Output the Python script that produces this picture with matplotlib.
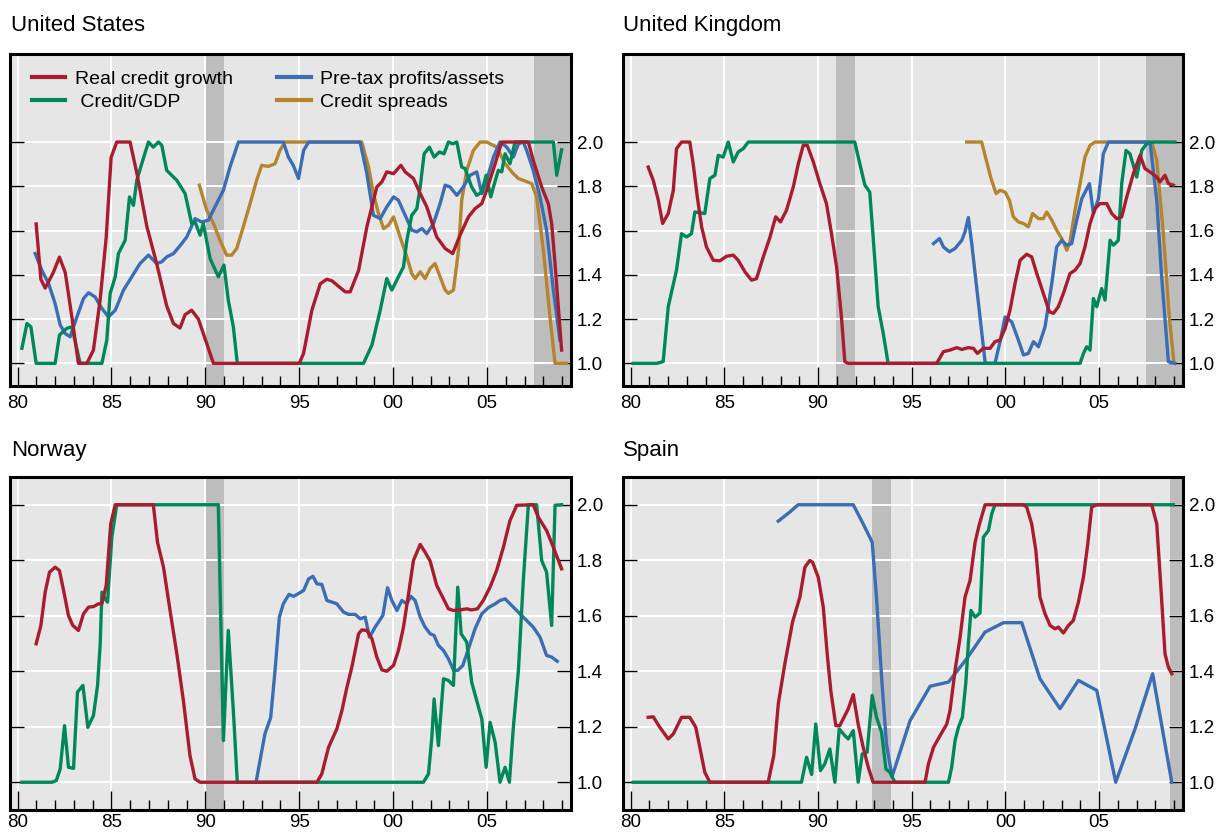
import numpy as np
import matplotlib
matplotlib.use("Agg")
import matplotlib.pyplot as plt
from matplotlib.ticker import MultipleLocator
from matplotlib.lines import Line2D

plt.rcParams['font.family'] = ['Liberation Sans', 'DejaVu Sans']

RED = '#a81c2e'
GREEN = '#00875a'
BLUE = '#3b6db5'
GOLD = '#b5842d'
BG = '#e6e6e6'
SHADE = '#bdbdbd'

# ---- United States ----
us_credit_growth = [(1980.99, 1.63), (1981.24, 1.38), (1981.47, 1.34), (1981.9, 1.41), (1982.23, 1.48),
                    (1982.54, 1.41), (1982.89, 1.21), (1983.24, 1.0), (1983.69, 1.0), (1984.04, 1.06),
                    (1984.4, 1.29), (1984.72, 1.57), (1984.98, 1.93), (1985.28, 2.0), (1985.99, 2.0),
                    (1986.35, 1.86), (1986.88, 1.62), (1987.41, 1.45), (1987.94, 1.26), (1988.3, 1.18),
                    (1988.65, 1.16), (1988.92, 1.22), (1989.27, 1.24), (1989.63, 1.20), (1990.43, 1.0),
                    (1995.0, 1.0), (1995.23, 1.045), (1995.67, 1.24), (1996.12, 1.36), (1996.47, 1.38),
                    (1996.74, 1.373), (1997.45, 1.323), (1997.71, 1.323), (1998.16, 1.42), (1998.6, 1.617),
                    (1999.13, 1.797), (1999.4, 1.82), (1999.66, 1.865), (2000.02, 1.857), (2000.41, 1.895),
                    (2000.64, 1.865), (2001.08, 1.835), (2001.44, 1.767), (2001.79, 1.707), (2002.32, 1.571),
                    (2002.77, 1.519), (2003.17, 1.496), (2003.56, 1.579), (2004.01, 1.662), (2004.36, 1.699),
                    (2004.72, 1.722), (2004.98, 1.782), (2005.43, 1.902), (2005.78, 2.0), (2007.2, 2.0),
                    (2007.46, 1.917), (2007.91, 1.797), (2008.26, 1.722), (2008.44, 1.632), (2008.62, 1.45),
                    (2008.97, 1.06)]
us_credit_gdp = [(1980.23, 1.068), (1980.5, 1.18), (1980.71, 1.165), (1980.99, 1.0), (1982.0, 1.0),
                 (1982.23, 1.128), (1982.62, 1.158), (1982.89, 1.165), (1983.33, 1.0), (1984.49, 1.0),
                 (1984.75, 1.105), (1984.93, 1.316), (1985.2, 1.391), (1985.37, 1.496), (1985.73, 1.556),
                 (1985.96, 1.752), (1986.17, 1.714), (1986.35, 1.827), (1986.61, 1.902), (1986.97, 2.0),
                 (1987.23, 1.977), (1987.5, 2.0), (1987.68, 1.985), (1987.94, 1.872), (1988.48, 1.827),
                 (1988.92, 1.767), (1989.27, 1.632), (1989.45, 1.639), (1989.72, 1.579), (1989.89, 1.632),
                 (1990.25, 1.474), (1990.69, 1.391), (1990.99, 1.444), (1991.22, 1.286), (1991.49, 1.165),
                 (1991.7, 1.0), (1998.42, 1.0), (1998.87, 1.083), (1999.31, 1.24), (1999.66, 1.383),
                 (1999.93, 1.331), (2000.28, 1.391), (2000.55, 1.436), (2000.73, 1.556), (2000.99, 1.669),
                 (2001.26, 1.699), (2001.44, 1.797), (2001.65, 1.947), (2001.93, 1.977), (2002.18, 1.932),
                 (2002.46, 1.955), (2002.71, 1.947), (2002.94, 2.0), (2003.17, 1.992), (2003.39, 2.0),
                 (2003.65, 1.887), (2003.83, 1.88), (2004.18, 1.797), (2004.45, 1.759), (2004.72, 1.774),
                 (2004.95, 1.85), (2005.2, 1.752), (2005.34, 1.797), (2005.6, 1.872), (2005.78, 1.865),
                 (2005.96, 1.947), (2006.22, 1.902), (2006.49, 2.0), (2008.53, 2.0), (2008.71, 1.85),
                 (2008.97, 1.965)]
us_profits = [(1980.94, 1.496), (1981.29, 1.421), (1981.65, 1.361), (1982.0, 1.27), (1982.27, 1.173),
              (1982.54, 1.135), (1982.8, 1.12), (1983.16, 1.21), (1983.51, 1.293), (1983.78, 1.319),
              (1984.13, 1.30), (1984.49, 1.248), (1984.84, 1.21), (1985.2, 1.24), (1985.64, 1.331),
              (1986.08, 1.391), (1986.52, 1.451), (1986.97, 1.489), (1987.41, 1.451), (1987.68, 1.459),
              (1987.94, 1.481), (1988.3, 1.496), (1988.74, 1.541), (1989.01, 1.571), (1989.45, 1.654),
              (1989.8, 1.639), (1990.16, 1.647), (1990.51, 1.707), (1990.96, 1.782), (1991.31, 1.887),
              (1991.76, 2.0), (1994.15, 2.0), (1994.42, 1.932), (1994.68, 1.895), (1994.96, 1.835),
              (1995.23, 1.962), (1995.5, 2.0), (1998.24, 2.0), (1998.6, 1.857), (1998.95, 1.669),
              (1999.31, 1.654), (1999.66, 1.707), (2000.02, 1.752), (2000.28, 1.737), (2000.64, 1.669),
              (2000.99, 1.602), (2001.26, 1.594), (2001.53, 1.609), (2001.79, 1.586), (2002.15, 1.632),
              (2002.5, 1.722), (2002.77, 1.805), (2003.03, 1.797), (2003.39, 1.759), (2003.74, 1.797),
              (2004.1, 1.85), (2004.45, 1.865), (2004.72, 1.767), (2004.98, 1.827), (2005.34, 1.932),
              (2005.69, 2.0), (2006.05, 1.977), (2006.4, 1.932), (2006.67, 1.992), (2006.93, 2.0),
              (2007.11, 1.962), (2007.46, 1.872), (2007.82, 1.752), (2008.17, 1.602), (2008.53, 1.331),
              (2008.88, 1.105)]
us_spreads = [(1989.68, 1.805), (1990.07, 1.692), (1990.43, 1.632), (1990.78, 1.556), (1991.13, 1.489),
              (1991.4, 1.489), (1991.67, 1.519), (1992.02, 1.617), (1992.38, 1.722), (1992.73, 1.827),
              (1993.0, 1.895), (1993.35, 1.89), (1993.71, 1.902), (1993.97, 1.962), (1994.24, 2.0),
              (1998.33, 2.0), (1998.69, 1.887), (1998.95, 1.767), (1999.22, 1.677), (1999.49, 1.609),
              (1999.75, 1.624), (2000.02, 1.662), (2000.37, 1.571), (2000.73, 1.481), (2000.99, 1.406),
              (2001.17, 1.383), (2001.44, 1.414), (2001.7, 1.383), (2001.97, 1.429), (2002.23, 1.451),
              (2002.5, 1.391), (2002.77, 1.331), (2002.94, 1.316), (2003.21, 1.331), (2003.48, 1.511),
              (2003.65, 1.737), (2003.92, 1.872), (2004.27, 1.962), (2004.63, 2.0), (2004.98, 2.0),
              (2005.51, 1.977), (2005.96, 1.902), (2006.4, 1.857), (2006.67, 1.835), (2006.93, 1.827),
              (2007.38, 1.812), (2007.64, 1.752), (2008.0, 1.511), (2008.35, 1.21), (2008.62, 1.0),
              (2009.24, 1.0)]
us_recessions = [(1990.0, 1991.0), (2007.5, 2010.0)]

# ---- United Kingdom ----
uk_credit_growth = [(1980.94, 1.887), (1981.21, 1.827), (1981.48, 1.737), (1981.71, 1.632), (1982.01, 1.677),
                    (1982.28, 1.782), (1982.45, 1.97), (1982.72, 2.0), (1983.16, 2.0), (1983.34, 1.902),
                    (1983.56, 1.752), (1983.79, 1.617), (1984.05, 1.526), (1984.41, 1.466), (1984.76, 1.463),
                    (1985.12, 1.484), (1985.48, 1.489), (1985.74, 1.466), (1986.1, 1.414), (1986.45, 1.376),
                    (1986.72, 1.383), (1987.08, 1.481), (1987.44, 1.571), (1987.74, 1.662), (1988.0, 1.639),
                    (1988.32, 1.692), (1988.68, 1.797), (1988.95, 1.902), (1989.21, 1.985), (1989.43, 1.985),
                    (1989.75, 1.91), (1990.1, 1.812), (1990.45, 1.722), (1990.72, 1.586), (1990.99, 1.436),
                    (1991.25, 1.21), (1991.43, 1.008), (1991.61, 1.0), (1996.33, 1.0), (1996.69, 1.053),
                    (1997.04, 1.06), (1997.4, 1.071), (1997.67, 1.063), (1998.02, 1.071), (1998.29, 1.068),
                    (1998.5, 1.045), (1998.82, 1.068), (1999.18, 1.068), (1999.44, 1.098), (1999.71, 1.105),
                    (1999.98, 1.158), (2000.24, 1.24), (2000.51, 1.361), (2000.78, 1.466), (2001.13, 1.493),
                    (2001.4, 1.481), (2001.67, 1.406), (2002.02, 1.316), (2002.34, 1.233), (2002.56, 1.226),
                    (2002.82, 1.256), (2003.09, 1.316), (2003.44, 1.406), (2003.71, 1.421), (2003.98, 1.451),
                    (2004.24, 1.526), (2004.51, 1.632), (2004.78, 1.699), (2005.04, 1.722), (2005.4, 1.722),
                    (2005.67, 1.677), (2005.93, 1.654), (2006.2, 1.662), (2006.47, 1.752), (2006.82, 1.857),
                    (2007.18, 1.94), (2007.44, 1.88), (2007.71, 1.865), (2008.07, 1.842), (2008.24, 1.82),
                    (2008.51, 1.85), (2008.69, 1.812), (2008.96, 1.805)]
uk_credit_gdp = [(1980.14, 1.0), (1981.39, 1.0), (1981.74, 1.008), (1982.01, 1.256), (1982.45, 1.421),
                 (1982.72, 1.586), (1982.99, 1.571), (1983.25, 1.586), (1983.43, 1.684), (1983.96, 1.677),
                 (1984.23, 1.835), (1984.5, 1.85), (1984.68, 1.94), (1984.94, 1.932), (1985.21, 2.0),
                 (1985.48, 1.91), (1985.74, 1.955), (1986.01, 1.97), (1986.28, 2.0), (1991.96, 2.0),
                 (1992.23, 1.902), (1992.5, 1.805), (1992.76, 1.774), (1992.94, 1.571), (1993.21, 1.256),
                 (1993.48, 1.135), (1993.74, 1.0), (2003.98, 1.0), (2004.16, 1.045), (2004.33, 1.075),
                 (2004.51, 1.06), (2004.69, 1.293), (2004.87, 1.256), (2005.13, 1.338), (2005.31, 1.286),
                 (2005.58, 1.556), (2005.76, 1.534), (2006.02, 1.556), (2006.2, 1.812), (2006.43, 1.962),
                 (2006.64, 1.947), (2007.0, 1.842), (2007.27, 1.962), (2007.53, 1.992), (2007.89, 2.0),
                 (2009.04, 2.0)]
uk_profits = [(1996.16, 1.541), (1996.48, 1.564), (1996.69, 1.526), (1997.01, 1.504), (1997.31, 1.519),
              (1997.67, 1.556), (1997.84, 1.594), (1998.02, 1.659), (1998.2, 1.541), (1998.64, 1.21),
              (1998.91, 1.008), (1999.0, 1.0), (1999.44, 1.0), (1999.71, 1.098), (1999.98, 1.21),
              (2000.33, 1.188), (2000.69, 1.105), (2000.96, 1.038), (2001.22, 1.045), (2001.49, 1.098),
              (2001.76, 1.075), (2002.11, 1.165), (2002.47, 1.361), (2002.73, 1.526), (2003.0, 1.556),
              (2003.27, 1.534), (2003.53, 1.541), (2003.8, 1.647), (2004.07, 1.744), (2004.48, 1.812),
              (2004.69, 1.677), (2004.96, 1.744), (2005.22, 1.947), (2005.49, 2.0), (2007.71, 2.0),
              (2008.07, 1.737), (2008.33, 1.391), (2008.69, 1.008), (2009.04, 1.0)]
uk_spreads = [(1997.93, 2.0), (1998.73, 2.0), (1999.0, 1.91), (1999.23, 1.835), (1999.5, 1.767),
              (1999.71, 1.782), (1999.98, 1.774), (2000.21, 1.737), (2000.42, 1.662), (2000.69, 1.639),
              (2000.96, 1.632), (2001.22, 1.617), (2001.45, 1.677), (2001.76, 1.654), (2002.02, 1.654),
              (2002.2, 1.684), (2002.47, 1.647), (2002.73, 1.602), (2003.0, 1.564), (2003.27, 1.511),
              (2003.44, 1.549), (2003.71, 1.692), (2003.98, 1.812), (2004.24, 1.932), (2004.51, 1.985),
              (2004.78, 2.0), (2007.8, 2.0), (2008.07, 1.917), (2008.42, 1.586), (2008.74, 1.21),
              (2008.98, 1.01)]
uk_recessions = [(1990.95, 1991.95), (2007.5, 2010.0)]

# ---- Norway ----
no_credit_growth = [(1980.99, 1.499), (1981.24, 1.565), (1981.47, 1.685), (1981.7, 1.757), (1982.0, 1.775),
                    (1982.23, 1.763), (1982.45, 1.691), (1982.71, 1.601), (1982.94, 1.565), (1983.24, 1.547),
                    (1983.51, 1.607), (1983.78, 1.631), (1984.04, 1.633), (1984.31, 1.643), (1984.49, 1.643),
                    (1984.72, 1.709), (1984.96, 1.931), (1985.2, 2.0), (1987.23, 2.0), (1987.45, 1.865),
                    (1987.77, 1.775), (1988.12, 1.619), (1988.48, 1.463), (1988.83, 1.294), (1989.18, 1.096),
                    (1989.45, 1.012), (1989.72, 1.0), (1995.94, 1.0), (1996.2, 1.03), (1996.56, 1.126),
                    (1997.0, 1.192), (1997.27, 1.258), (1997.54, 1.343), (1997.8, 1.415), (1998.16, 1.535),
                    (1998.33, 1.549), (1998.6, 1.547), (1998.87, 1.517), (1999.13, 1.451), (1999.4, 1.405),
                    (1999.66, 1.40), (2000.02, 1.421), (2000.28, 1.475), (2000.55, 1.559), (2000.82, 1.679),
                    (2001.08, 1.799), (2001.44, 1.857), (2001.7, 1.829), (2001.97, 1.797), (2002.32, 1.709),
                    (2002.68, 1.661), (2002.94, 1.625), (2003.21, 1.619), (2003.56, 1.621), (2003.92, 1.625),
                    (2004.18, 1.621), (2004.49, 1.625), (2004.8, 1.655), (2005.16, 1.703), (2005.51, 1.763),
                    (2005.87, 1.847), (2006.22, 1.943), (2006.58, 1.998), (2007.46, 2.0), (2007.73, 1.955),
                    (2008.17, 1.907), (2008.53, 1.847), (2008.97, 1.769)]
no_credit_gdp = [(1980.23, 1.0), (1981.83, 1.0), (1982.06, 1.006), (1982.27, 1.048), (1982.5, 1.204),
                 (1982.71, 1.054), (1982.98, 1.05), (1983.19, 1.325), (1983.48, 1.349), (1983.74, 1.198),
                 (1984.04, 1.24), (1984.26, 1.349), (1984.4, 1.499), (1984.49, 1.685), (1984.66, 1.661),
                 (1984.79, 1.649), (1985.02, 1.883), (1985.28, 2.0), (1990.69, 2.0), (1990.96, 1.15),
                 (1991.22, 1.547), (1991.49, 1.258), (1991.7, 1.0), (2001.61, 1.0), (2001.88, 1.03),
                 (2002.06, 1.162), (2002.18, 1.30), (2002.41, 1.132), (2002.68, 1.373), (2002.94, 1.367),
                 (2003.21, 1.349), (2003.44, 1.703), (2003.62, 1.535), (2003.92, 1.505), (2004.18, 1.361),
                 (2004.45, 1.294), (2004.72, 1.228), (2004.95, 1.054), (2005.16, 1.216), (2005.43, 1.144),
                 (2005.69, 1.0), (2005.96, 1.054), (2006.19, 1.0), (2006.4, 1.198), (2006.67, 1.403),
                 (2006.93, 1.727), (2007.2, 2.0), (2007.64, 2.0), (2007.91, 1.799), (2008.17, 1.757),
                 (2008.44, 1.565), (2008.62, 1.998), (2008.97, 2.0)]
no_profits = [(1992.7, 1.0), (1992.91, 1.078), (1993.17, 1.174), (1993.48, 1.234), (1993.71, 1.403),
              (1993.94, 1.595), (1994.15, 1.643), (1994.45, 1.677), (1994.7, 1.67), (1994.96, 1.68),
              (1995.23, 1.691), (1995.5, 1.733), (1995.73, 1.742), (1995.94, 1.715), (1996.2, 1.713),
              (1996.47, 1.655), (1996.74, 1.649), (1997.0, 1.643), (1997.36, 1.613), (1997.62, 1.605),
              (1997.98, 1.605), (1998.24, 1.589), (1998.51, 1.595), (1998.74, 1.523), (1999.04, 1.559),
              (1999.45, 1.601), (1999.7, 1.701), (1999.93, 1.655), (2000.2, 1.619), (2000.46, 1.655),
              (2000.73, 1.643), (2000.94, 1.67), (2001.17, 1.655), (2001.44, 1.595), (2001.7, 1.559),
              (2001.97, 1.535), (2002.18, 1.529), (2002.41, 1.493), (2002.68, 1.475), (2002.94, 1.445),
              (2003.21, 1.405), (2003.44, 1.403), (2003.71, 1.421), (2004.01, 1.481), (2004.36, 1.553),
              (2004.72, 1.607), (2005.07, 1.629), (2005.43, 1.643), (2005.69, 1.655), (2005.96, 1.661),
              (2006.4, 1.631), (2006.93, 1.595), (2007.46, 1.559), (2007.82, 1.523), (2008.17, 1.457),
              (2008.44, 1.451), (2008.74, 1.436)]
no_recessions = [(1990.0, 1991.0)]

# ---- Spain ----
es_credit_growth = [(1980.94, 1.234), (1981.21, 1.236), (1981.56, 1.198), (1982.01, 1.156), (1982.28, 1.174),
                    (1982.72, 1.234), (1983.16, 1.234), (1983.48, 1.198), (1983.73, 1.114), (1983.96, 1.036),
                    (1984.23, 1.0), (1987.34, 1.0), (1987.64, 1.096), (1987.88, 1.282), (1988.23, 1.427),
                    (1988.64, 1.577), (1989.03, 1.667), (1989.3, 1.775), (1989.56, 1.799), (1989.71, 1.793),
                    (1990.01, 1.739), (1990.28, 1.631), (1990.49, 1.463), (1990.68, 1.331), (1990.95, 1.204),
                    (1991.16, 1.204), (1991.61, 1.264), (1991.88, 1.316), (1992.14, 1.21), (1992.41, 1.126),
                    (1992.68, 1.054), (1992.94, 1.0), (1995.71, 1.0), (1995.89, 1.066), (1996.16, 1.126),
                    (1996.51, 1.168), (1996.87, 1.21), (1997.04, 1.258), (1997.31, 1.403), (1997.58, 1.523),
                    (1997.84, 1.667), (1998.11, 1.727), (1998.38, 1.865), (1998.59, 1.925), (1998.91, 2.0),
                    (2000.96, 2.0), (2001.13, 1.992), (2001.4, 1.931), (2001.62, 1.835), (2001.84, 1.667),
                    (2002.11, 1.607), (2002.38, 1.565), (2002.64, 1.553), (2002.82, 1.559), (2003.09, 1.538),
                    (2003.36, 1.565), (2003.62, 1.583), (2003.89, 1.649), (2004.16, 1.739), (2004.39, 1.859),
                    (2004.6, 1.992), (2004.87, 2.0), (2007.8, 2.0), (2008.07, 1.931), (2008.3, 1.691),
                    (2008.51, 1.463), (2008.69, 1.415), (2008.87, 1.391)]
es_credit_gdp = [(1980.14, 1.0), (1989.12, 1.0), (1989.39, 1.09), (1989.66, 1.028), (1989.88, 1.21),
                 (1990.13, 1.042), (1990.36, 1.066), (1990.63, 1.12), (1990.9, 1.0), (1991.13, 1.192),
                 (1991.43, 1.168), (1991.61, 1.156), (1991.88, 1.186), (1992.14, 1.0), (1992.36, 1.102),
                 (1992.62, 1.108), (1992.89, 1.313), (1993.12, 1.234), (1993.39, 1.18), (1993.62, 1.048),
                 (1993.83, 1.036), (1994.1, 1.0), (1996.96, 1.0), (1997.13, 1.054), (1997.31, 1.15),
                 (1997.49, 1.198), (1997.7, 1.234), (1997.88, 1.355), (1998.02, 1.499), (1998.16, 1.619),
                 (1998.38, 1.595), (1998.64, 1.61), (1998.82, 1.883), (1999.09, 1.907), (1999.27, 1.968),
                 (1999.44, 2.0), (2008.96, 2.0)]
es_profits = [(1987.88, 1.941), (1988.5, 1.974), (1988.94, 2.0), (1991.88, 2.0), (1992.41, 1.931),
              (1992.89, 1.865), (1993.12, 1.666), (1993.39, 1.379), (1993.65, 1.138), (1993.95, 1.02),
              (1994.91, 1.222), (1995.98, 1.346), (1996.96, 1.361), (1997.93, 1.445), (1998.91, 1.541),
              (1999.89, 1.575), (2000.87, 1.575), (2001.84, 1.373), (2002.91, 1.265), (2003.89, 1.367),
              (2004.87, 1.331), (2005.88, 1.0), (2006.91, 1.192), (2007.85, 1.391), (2008.87, 1.0)]
es_recessions = [(1992.9, 1993.9), (2008.75, 2010.0)]

legend_labels = ['Real credit growth', ' Credit/GDP', 'Pre-tax profits/assets', 'Credit spreads']
year_labels = ['80', '85', '90', '95', '00', '05']
y_labels = ['1.0', '1.2', '1.4', '1.6', '1.8', '2.0']

W, H = 1221, 834
fig = plt.figure(figsize=(W / 100, H / 100), dpi=100)


def make_ax(x0, x1, y0, y1):
    return fig.add_axes([x0 / W, 1 - y1 / H, (x1 - x0) / W, (y1 - y0) / H])


def draw_panel(ax, series, recessions, ylim, xpad):
    ax.set_facecolor(BG)
    ax.set_xlim(1979.57, 2009.47)
    ax.set_ylim(*ylim)
    for a, b in recessions:
        ax.axvspan(a, b, color=SHADE, lw=0, zorder=0.5)
    for yr in range(1980, 2010, 5):
        ax.axvline(yr, color='white', lw=1.4, zorder=0.8)
    for v in np.arange(1.0, 2.01, 0.2):
        ax.axhline(v, color='white', lw=1.4, zorder=0.8)
    for data, color in series:
        xs = [p[0] for p in data]
        ys = [p[1] for p in data]
        ax.plot(xs, ys, color=color, lw=2.4, solid_joinstyle='round', zorder=2)
    ax.set_xticks(range(1980, 2010, 5))
    ax.set_xticklabels(year_labels)
    ax.xaxis.set_minor_locator(MultipleLocator(1))
    ax.tick_params(axis='x', which='major', direction='in', length=14, width=1.0,
                   labelsize=13.5, pad=xpad, top=False)
    ax.tick_params(axis='x', which='minor', direction='in', length=7, width=1.0, top=False)
    ax.set_yticks(np.arange(1.0, 2.01, 0.2))
    ax.set_yticklabels(y_labels)
    ax.tick_params(axis='y', which='major', direction='in', length=10, width=1.0,
                   left=True, right=True, labelleft=False, labelright=True,
                   labelsize=13.5, pad=4)
    for s in ax.spines.values():
        s.set_linewidth(2.2)
        s.set_zorder(3)


ax_us = make_ax(9.5, 571, 53.5, 385.5)
ax_uk = make_ax(622.5, 1183, 53.5, 385.5)
ax_no = make_ax(9.5, 571, 477, 810)
ax_es = make_ax(622.5, 1183, 477, 810)

draw_panel(ax_us, [(us_spreads, GOLD), (us_profits, BLUE), (us_credit_gdp, GREEN), (us_credit_growth, RED)],
           us_recessions, (0.9, 2.4), 7)
draw_panel(ax_uk, [(uk_spreads, GOLD), (uk_profits, BLUE), (uk_credit_gdp, GREEN), (uk_credit_growth, RED)],
           uk_recessions, (0.9, 2.4), 7)
draw_panel(ax_no, [(no_profits, BLUE), (no_credit_gdp, GREEN), (no_credit_growth, RED)],
           no_recessions, (0.9, 2.1), 3)
draw_panel(ax_es, [(es_profits, BLUE), (es_credit_gdp, GREEN), (es_credit_growth, RED)],
           es_recessions, (0.9, 2.1), 3)

handles = [Line2D([], [], color=c, lw=3) for c in (RED, GREEN, BLUE, GOLD)]
ax_us.legend(handles, legend_labels, ncol=2, loc='upper left', bbox_to_anchor=(0.04, 0.95),
             frameon=False, fontsize=14, handlelength=1.7, handletextpad=0.5,
             columnspacing=2.3, labelspacing=0.3, borderpad=0, borderaxespad=0)

fig.text(11 / W, 1 - 31 / H, 'United States', fontsize=16, va='baseline', ha='left')
fig.text(623 / W, 1 - 31 / H, 'United Kingdom', fontsize=16, va='baseline', ha='left')
fig.text(11 / W, 1 - 456 / H, 'Norway', fontsize=16, va='baseline', ha='left')
fig.text(623 / W, 1 - 456 / H, 'Spain', fontsize=16, va='baseline', ha='left')

fig.savefig('out.png', dpi=100, facecolor='white')
